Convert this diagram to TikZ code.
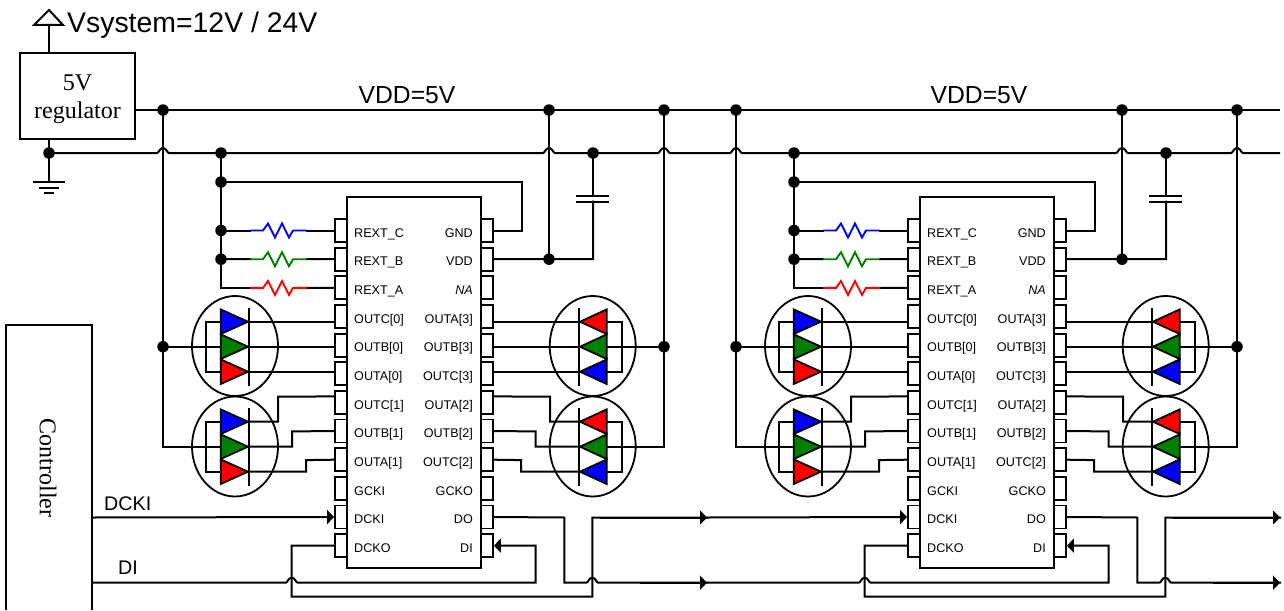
\documentclass[tikz,border=0pt]{standalone}
\usepackage{fontspec}
\setmainfont{Liberation Sans}
\newfontfamily\serifface{Liberation Serif}
\usetikzlibrary{shapes.geometric,arrows.meta}
\definecolor{ledgreen}{RGB}{0,128,0}
\newcommand{\hopover}[2]{-- (#1-6,#2) .. controls (#1-4,#2) and (#1-3.5,#2-5) .. (#1,#2-5) .. controls (#1+3.5,#2-5) and (#1+4,#2) .. (#1+6,#2)}
\newcommand{\ledtri}[4]{\filldraw[ledbody,fill=#4] (#1,#3-12.3) -- (#2,#3) -- (#1,#3+12.3) -- cycle;}
\newcommand{\resist}[2]{\draw[rline,#2] (250,#1) -- (263,#1) -- (268,#1-7) -- (275,#1+7) -- (282,#1-7) -- (289,#1+7) -- (293,#1) -- (307,#1);}
\tikzset{
  wire/.style={line width=2pt,black,line cap=rect},
  rline/.style={line width=1.9pt,line join=miter},
  ledbody/.style={line width=1.8pt,draw=black,line join=miter},
  dotn/.style={circle,fill=black,inner sep=0pt,minimum size=11.5pt},
  pinbox/.style={draw,line width=1.8pt,fill=white,minimum width=12pt,minimum height=23pt,inner sep=0pt},
  chipbox/.style={draw,line width=1.8pt,minimum width=134pt,minimum height=371pt,inner sep=0pt},
  ledring/.style={draw,ellipse,line width=1.8pt,minimum width=86pt,minimum height=100pt,inner sep=0pt},
  pintxt/.style={font=\fontsize{12.6}{14}\selectfont,inner sep=0pt},
  tipR/.style={line cap=butt,-{Triangle[length=7pt,width=14pt]}}
}
\newcommand{\ledchip}[4]{%
\begin{scope}[xshift=#1pt]
  % chip and pins
  \foreach \i [evaluate=\i as \yy using 230.5+28.65*(\i-1)] in {1,...,12} {
    \node[pinbox] (#2L\i) at (341,\yy) {};
    \node[pinbox] (#2R\i) at (487,\yy) {};
  }
  \node[chipbox] (#2chip) at (414,382.5) {};
  \foreach \i/\t [evaluate=\i as \yy using 237.3+28.65*(\i-1)] in {1/REXT\_C,2/REXT\_B,3/REXT\_A,4/OUTC[0],5/OUTB[0],6/OUTA[0],7/OUTC[1],8/OUTB[1],9/OUTA[1],10/GCKI,11/DCKI,12/DCKO}
    \node[pintxt,anchor=base west] (#2Lt\i) at (354,\yy) {\t};
  \foreach \i/\t [evaluate=\i as \yy using 237.3+28.65*(\i-1)] in {1/GND,2/VDD,3/\itshape NA,4/OUTA[3],5/OUTB[3],6/OUTC[3],7/OUTA[2],8/OUTB[2],9/OUTC[2],10/GCKO,11/DO,12/DI}
    \node[pintxt,anchor=base east] (#2Rt\i) at (473,\yy) {\t};
  % junctions
  \node[dotn] (#2vA) at (163,110) {};
  \node[dotn] (#2vB) at (549,110) {};
  \node[dotn] (#2vC) at (664,110) {};
  \node[dotn] (#2gA) at (221,153) {};
  \node[dotn] (#2gB) at (593,153) {};
  \node[dotn] (#2bA) at (221,182) {};
  \node[dotn] (#2bB) at (221,230.5) {};
  \node[dotn] (#2bC) at (221,259.2) {};
  \node[dotn] (#2dv) at (549,259.2) {};
  \node[dotn] (#2dL) at (163,346.7) {};
  \node[dotn] (#2dR) at (664,346.7) {};
  \coordinate (#2mDO) at (707,517.5);
  \coordinate (#2mDI) at (707,582.7);
  % supply wiring
  \draw[wire] (#2vA.center) -- (#2dL.center) -- (163,446.7) -- (249,446.7);
  \draw[wire] (#2vC.center) -- (#2dR.center) -- (664,446.7) -- (580,446.7);
  \draw[wire] (#2vB.center) -- (#2dv.center);
  \draw[wire] (#2gA.center) -- (#2bA.center) -- (#2bB.center) -- (#2bC.center) -- (221,287.9) -- (250,287.9);
  \draw[wire] (#2bA.center) -- (522,182) |- (#2R1.east);
  \draw[wire] (#2R2.east) -- (#2dv.center) -- (593,259.2) -- (593,201.7);
  \draw[wire] (#2gB.center) -- (593,196);
  \draw[wire] (577,196) -- (608,196) (577,201.7) -- (608,201.7);
  % resistors
  \draw[wire] (#2bB.center) -- (250,230.5) (307,230.5) -- (#2L1.west);
  \draw[wire] (#2bC.center) -- (250,259.2) (307,259.2) -- (#2L2.west);
  \draw[wire] (307,287.9) -- (#2L3.west);
  \resist{230.5}{blue}
  \resist{259.2}{ledgreen}
  \resist{287.9}{red}
  % left LEDs wiring
  \draw[wire] (#2L4.west |- 0,321.7) -- (249,321.7);
  \draw[wire] (#2dL.center) -- (#2L5.west |- 0,346.7);
  \draw[wire] (#2L6.west |- 0,371.7) -- (249,371.7);
  \draw[wire] (220.7,321.7) -- (206,321.7) -- (206,371.7) -- (220.7,371.7);
  \draw[wire] (220.7,421.7) -- (206,421.7) -- (206,471.7) -- (220.7,471.7);
  \draw[wire] (#2L7.west) ++(0,-6) -- (278,396.7) -- (278,421.7) -- (249,421.7);
  \draw[wire] (#2L8.west) -- (292,431.4) -- (292,446.7) -- (249,446.7);
  \draw[wire] (#2L9.west) -- (306,460.1) -- (306,471.7) -- (249,471.7);
  % right LEDs wiring
  \draw[wire] (#2R4.east |- 0,321.7) -- (580,321.7);
  \draw[wire] (#2R5.east |- 0,346.7) -- (#2dR.center);
  \draw[wire] (#2R6.east |- 0,371.7) -- (580,371.7);
  \draw[wire] (606.7,321.7) -- (621.7,321.7) -- (621.7,371.7) -- (606.7,371.7);
  \draw[wire] (606.7,421.7) -- (621.7,421.7) -- (621.7,471.7) -- (606.7,471.7);
  \draw[wire] (#2R7.east) ++(0,-6) -- (550,396.7) -- (550,421.7) -- (580,421.7);
  \draw[wire] (#2R8.east) -- (535.7,431.4) -- (535.7,446.7) -- (580,446.7);
  \draw[wire] (#2R9.east) -- (521,460.1) -- (521,471.7) -- (580,471.7);
  % rings
  \node[ledring] (#2eA) at (235,346) {};
  \node[ledring] (#2eB) at (235,446.5) {};
  \node[ledring] (#2eC) at (592.7,346) {};
  \node[ledring] (#2eD) at (592.7,446.5) {};
  % LEDs
  \foreach \dy in {0,100} {
    \ledtri{220.7}{248}{321.7+\dy}{blue}
    \ledtri{220.7}{248}{346.7+\dy}{ledgreen}
    \ledtri{220.7}{248}{371.7+\dy}{red}
    \ledtri{606.7}{580}{321.7+\dy}{red}
    \ledtri{606.7}{580}{346.7+\dy}{ledgreen}
    \ledtri{606.7}{580}{371.7+\dy}{blue}
    \draw[wire] (249,308.5+\dy) -- (249,385+\dy);
    \draw[wire] (578.7,308.5+\dy) -- (578.7,385+\dy);
  }
  % data wiring
  \draw[wire,tipR] (#3) -- (#2L11.west);
  \draw[wire,tipR] (#4) \hopover{291.7}{582.7} -- (535.7,582.7) -- (535.7,545.6) -- (#2R12.east);
  \draw[wire] (#2L12.west) -- (291.7,545.6) -- (291.7,596.7) -- (592.3,596.7) -- (592.3,517.5) -- (#2mDO);
  \draw[wire] (#2R11.east) -- (564.3,517.5) -- (564.3,582.7) \hopover{592.3}{582.7} -- (#2mDI);
  \draw[wire,tipR] (600,517.5) -- (#2mDO);
  \draw[wire,tipR] (640,582.7) -- (#2mDI);
\end{scope}}
\begin{document}
\begin{tikzpicture}[x=1pt,y=-1pt]
  \useasboundingbox (0,0) rectangle (1284,610);
  \node[draw,line width=2pt,minimum width=115pt,minimum height=86pt,inner sep=0pt] (reg) at (77.5,96) {};
  \node[inner sep=0pt,align=center,font=\serifface\fontsize{24}{28}\selectfont] (regtext) at (77.5,99) {5V\\regulator};
  \draw[line width=2pt,line join=miter] (34,25) -- (49,10) -- (63,25) -- cycle;
  \coordinate (vsys) at (49,25);
  \node[anchor=base west,inner sep=0pt,font=\fontsize{28.4}{30}\selectfont] (vtxt) at (67,33) {Vsystem=12V / 24V};
  \draw[wire] (vsys) -- (vsys |- reg.north);
  \node[dotn] (gnd) at (49,153) {};
  \coordinate (earth) at (49,182);
  \draw[wire] (reg.south -| gnd) -- (gnd.center) -- (earth);
  \draw[wire] (34,182) -- (64,182) (40,187.5) -- (58,187.5) (45,193) -- (53,193);
  \coordinate (vend) at (1279,110);
  \coordinate (gend) at (1279,153);
  \draw[wire] (reg.east |- vend) -- (vend);
  \draw[wire] (gnd.center) \hopover{163}{153} \hopover{549}{153} \hopover{664}{153} \hopover{736}{153} \hopover{1122}{153} \hopover{1237}{153} -- (gend);
  \node[inner sep=0pt,font=\fontsize{24.7}{26}\selectfont] (vddA) at (407,95) {VDD=5V};
  \node[inner sep=0pt,font=\fontsize{24.7}{26}\selectfont] (vddB) at (979,95) {VDD=5V};
  % controller
  \draw[line width=2pt] (6,610) -- (6,325) -- (92,325) -- (92,610);
  \node[rotate=-90,inner sep=0pt,font=\serifface\fontsize{24}{26}\selectfont] (ctrl) at (48,468) {Controller};
  \coordinate (ctDCKI) at (92,517.5);
  \coordinate (ctDI) at (92,582.7);
  \node[anchor=base west,inner sep=0pt,font=\fontsize{19.7}{21}\selectfont] (tDCKI) at (104,510) {DCKI};
  \node[anchor=base west,inner sep=0pt,font=\fontsize{19.7}{21}\selectfont] (tDI) at (118,574) {DI};
  \ledchip{0}{A}{ctDCKI}{ctDI}
  \ledchip{573}{B}{AmDO}{AmDI}
\end{tikzpicture}
\end{document}
